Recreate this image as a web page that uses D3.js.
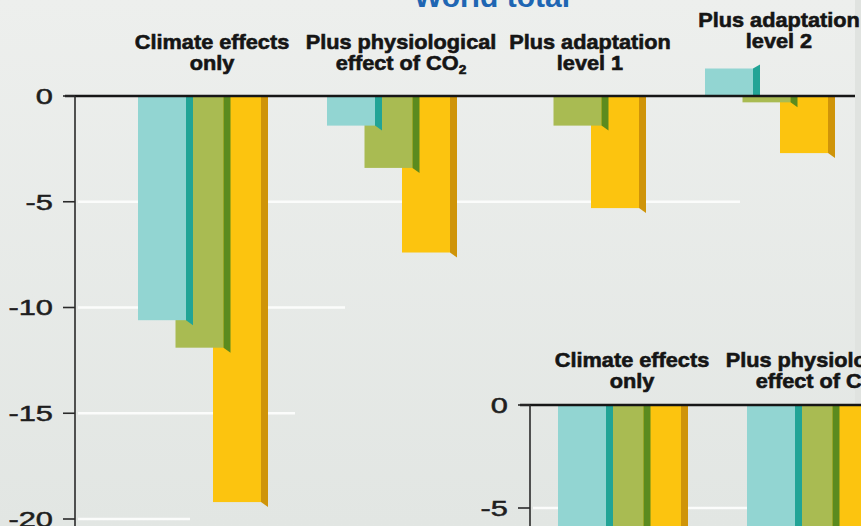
<!DOCTYPE html>
<html lang="en">
<head>
    <meta charset="UTF-8">
    <title>World total</title>
    <script src="https://cdn.jsdelivr.net/npm/d3@7"></script>
    <style>
        body { margin: 0; background: #e6e9e6; }
        svg { display: block; }
    </style>
</head>
<body>
<svg></svg>

<script>
    const width = 861,
        height = 526;

    // groups along the x axis, each label split in two lines
    const groups = ["Climate effects only", "Plus physiological effect of CO2", "Plus adaptation level 1", "Plus adaptation level 2"];
    const groupLines = [["Climate effects", "only"], ["Plus physiological", "effect of CO2"], ["Plus adaptation", "level 1"], ["Plus adaptation", "level 2"]];
    const series = ["2020s", "2050s", "2080s"];

    // % change
    const cyanValues = [-10.6, -1.4, 0, 1.3];
    const greenValues = [-11.9, -3.4, -1.4, -0.3];
    const yellowValues = [-19.2, -7.4, -5.3, -2.7];
    const yTicks = [0, -5, -10, -15, -20];

    // second (cut off) panel, only its top is in view
    const insetGroups = ["Climate effects only", "Plus physiological effect of CO2"];
    const insetCyan = [-8, -7];
    const insetGreen = [-9, -8];
    const insetYellow = [-12, -10];
    const insetTicks = [0, -5];

    const colors = {
        "2020s": {front: "#92d5d2", side: "#22a496"},
        "2050s": {front: "#a9bb52", side: "#5b8b1e"},
        "2080s": {front: "#fcc40f", side: "#cf9409"}
    };

    const svg = d3.select("svg")
        .attr("width", width)
        .attr("height", height)
        .style("font-family", "'Liberation Sans', Arial, sans-serif");

    const defs = svg.append("defs");
    const bg = defs.append("linearGradient").attr("id", "bg")
        .attr("x1", 0).attr("y1", 0).attr("x2", 0).attr("y2", 1);
    bg.append("stop").attr("offset", 0).attr("stop-color", "#edefed");
    bg.append("stop").attr("offset", 1).attr("stop-color", "#e2e6e3");

    svg.append("rect")
        .attr("width", width)
        .attr("height", height)
        .attr("fill", "url(#bg)");

    svg.append("rect")
        .attr("x", 855).attr("width", 6)
        .attr("height", height)
        .attr("fill", "#e0e3e0");

    // title, mostly cropped away at the top
    svg.append("text")
        .attr("x", 492)
        .attr("y", 7)
        .attr("text-anchor", "middle")
        .attr("font-size", 30)
        .attr("font-weight", "bold")
        .attr("fill", "#1f66b3")
        .text("World total");

    function panel(opt) {
        const g = svg.append("g");
        const rows = series.map((s, i) => opt.values[i]);

        const y = d3.scaleLinear().domain(opt.yDomain).range(opt.yRange);
        const x = d3.scaleBand().domain(opt.groups).range(opt.xRange);
        const xi = d3.scaleBand().domain(series).range([18, 130.5]);
        const barW = 48, sideW = 7;

        // white gridlines
        g.append("g")
            .selectAll("line")
            .data(opt.ticks.filter(d => d !== 0))
            .join("line")
            .attr("x1", opt.axisX + 3)
            .attr("x2", (d, i) => opt.gridEnds[i])
            .attr("y1", d => y(d))
            .attr("y2", d => y(d))
            .attr("stroke", "#fbfcfb")
            .attr("stroke-width", 2.5);

        // bars, last series first so the first sits in front
        const bars = [];
        opt.groups.forEach((grp, gi) => {
            series.forEach((s, si) => {
                bars.push({group: grp, gi: gi, series: s, si: si, value: rows[si][gi]});
            });
        });
        bars.sort((a, b) => b.si - a.si);

        const bar = g.append("g")
            .selectAll("g")
            .data(bars.filter(d => d.value !== 0))
            .join("g");

        bar.append("rect")
            .attr("x", d => x(d.group) + xi(d.series))
            .attr("y", d => Math.min(y(0), y(d.value)))
            .attr("width", barW)
            .attr("height", d => Math.abs(y(d.value) - y(0)))
            .attr("fill", d => colors[d.series].front);

        bar.append("path")
            .attr("fill", d => colors[d.series].side)
            .attr("d", d => {
                const xr = x(d.group) + xi(d.series) + barW,
                    y0 = y(0), y1 = y(d.value);
                if (d.value < 0)
                    return `M${xr},${y0}L${xr + sideW},${y0}L${xr + sideW},${y1 + 5}L${xr},${y1}Z`;
                return `M${xr},${y1}L${xr + sideW},${y1 - 4}L${xr + sideW},${y0}L${xr},${y0}Z`;
            });

        // zero line and axis
        g.append("line")
            .attr("x1", opt.axisX - 10)
            .attr("x2", opt.zeroEnd)
            .attr("y1", y(0)).attr("y2", y(0))
            .attr("stroke", "#161616")
            .attr("stroke-width", 2.5);

        g.append("line")
            .attr("x1", opt.axisX).attr("x2", opt.axisX)
            .attr("y1", y(0)).attr("y2", height + 10)
            .attr("stroke", "#2a2a2a")
            .attr("stroke-width", 1.6);

        const tick = g.append("g")
            .selectAll("g")
            .data(opt.ticks)
            .join("g")
            .attr("transform", d => `translate(0,${y(d)})`);

        tick.append("line")
            .attr("x1", opt.axisX - 12)
            .attr("x2", opt.axisX)
            .attr("stroke", "#2a2a2a")
            .attr("stroke-width", 1.6);

        tick.append("g")
            .attr("transform", `translate(${opt.axisX - 22},0) scale(1.4,1)`)
            .append("text")
            .attr("text-anchor", "end")
            .attr("dy", "0.36em")
            .attr("font-size", 22)
            .attr("fill", "#1e1e1e")
            .attr("stroke", "#1e1e1e")
            .attr("stroke-width", 0.5)
            .text(d => d);

        // group labels, raised when a bar goes above zero
        const label = g.append("g")
            .selectAll("g")
            .data(opt.groups)
            .join("g")
            .attr("transform", (d, i) => {
                const up = d3.max(rows, r => r[i]) > 0 ? 22 : 0;
                return `translate(${x(d) + 92},${opt.labelY - up}) scale(1.06,1)`;
            });

        label.append("text")
            .attr("text-anchor", "middle")
            .attr("font-size", 20.5)
            .attr("font-weight", "bold")
            .attr("fill", "#151515")
            .attr("stroke", "#151515")
            .attr("stroke-width", 0.6)
            .each(function (d) {
                const lines = groupLines[groups.indexOf(d)];
                const t = d3.select(this);
                lines.forEach((ln, li) => {
                    const sub = ln.endsWith("CO2");
                    t.append("tspan")
                        .attr("x", 0)
                        .attr("y", li * 21)
                        .text(sub ? ln.slice(0, -1) : ln);
                    if (sub) {
                        t.append("tspan")
                            .attr("font-size", 13)
                            .attr("dy", 4)
                            .text("2");
                    }
                });
            });
    }

    panel({
        groups: groups,
        values: [cyanValues, greenValues, yellowValues],
        ticks: yTicks,
        yDomain: [-20, 0],
        yRange: [519, 96],
        xRange: [120, 876],
        axisX: 75,
        zeroEnd: 855,
        gridEnds: [740, 345, 295, 190],
        labelY: 49
    });

    panel({
        groups: insetGroups,
        values: [insetCyan, insetGreen, insetYellow],
        ticks: insetTicks,
        yDomain: [-5, 0],
        yRange: [508, 405],
        xRange: [540, 918],
        axisX: 530,
        zeroEnd: 880,
        gridEnds: [900],
        labelY: 367
    });
</script>
</body>
</html>
